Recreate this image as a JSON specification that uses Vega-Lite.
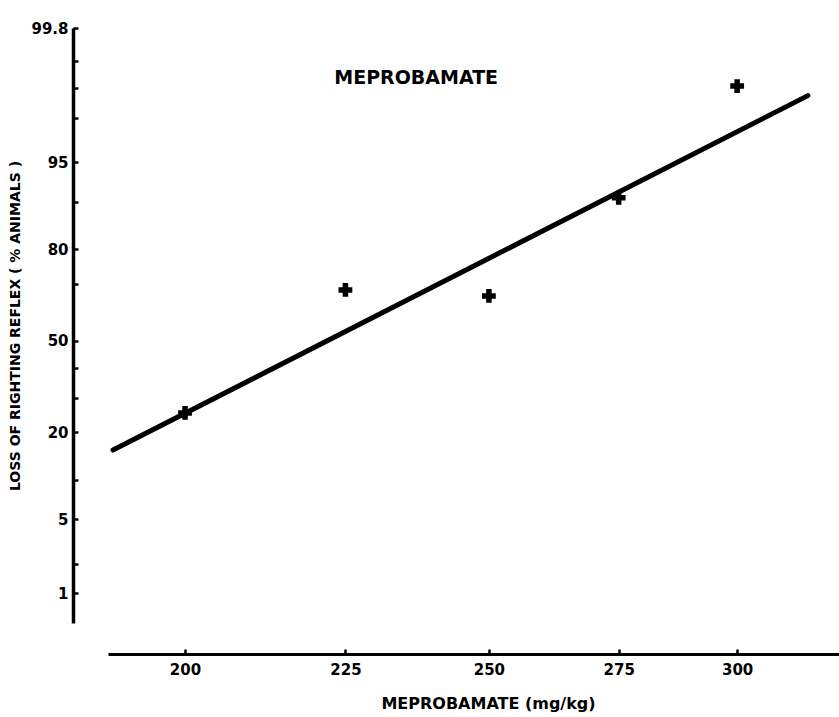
{
  "$schema": "https://vega.github.io/schema/vega-lite/v6.json",
  "width": 731,
  "height": 595,
  "autosize": {"type": "none"},
  "padding": {"left": 108, "top": 28, "right": 0, "bottom": 94},
  "background": "white",
  "config": {"view": {"stroke": null}, "font": "DejaVu Sans"},
  "data": {
    "values": [
      {"series": "fit", "dose": 189.7, "pct": 15.7, "label": ""},
      {"series": "fit", "dose": 316, "pct": 98.8, "label": ""},
      {"series": "observed", "dose": 200, "pct": 25.3, "label": ""},
      {"series": "observed", "dose": 225, "pct": 68, "label": ""},
      {"series": "observed", "dose": 250, "pct": 66, "label": ""},
      {"series": "observed", "dose": 275, "pct": 90.6, "label": ""},
      {"series": "observed", "dose": 300, "pct": 99.05, "label": ""},
      {"series": "title", "dose": 237, "pct": 99.22, "label": "MEPROBAMATE"}
    ]
  },
  "transform": [{"calculate": "quantileNormal(datum.pct/100)", "as": "probit"}],
  "encoding": {
    "x": {
      "field": "dose",
      "type": "quantitative",
      "scale": {"type": "log", "domain": [189, 323.3], "nice": false, "zero": false},
      "axis": {
        "values": [200, 225, 250, 275, 300],
        "format": "d",
        "offset": 31,
        "grid": false,
        "domainColor": "black",
        "domainWidth": 3,
        "tickColor": "black",
        "tickWidth": 2.5,
        "tickSize": -5,
        "labelPadding": 13,
        "labelFont": "DejaVu Sans",
        "labelFontWeight": "bold",
        "labelFontSize": 15,
        "labelColor": "black",
        "labelFlush": false,
        "title": "MEPROBAMATE (mg/kg)",
        "titleFont": "DejaVu Sans",
        "titleFontWeight": "bold",
        "titleFontSize": 16,
        "titleColor": "black",
        "titlePadding": 18,
        "titleX": 380
      }
    },
    "y": {
      "field": "probit",
      "type": "quantitative",
      "scale": {"type": "linear", "domain": [-2.6, 2.88], "nice": false, "zero": false},
      "axis": {
        "values": [2.8782, 2.5758, 2.3263, 2.0537, 1.6449, 1.2816, 0.8416, 0.5244, 0, -0.2533, -0.5244, -0.8416, -1.2816, -1.6449, -2.0537, -2.3263],
        "labelExpr": "indexof([99.8, 95, 80, 50, 20, 5, 1], round(cumulativeNormal(datum.value)*1000)/10) >= 0 ? '' + round(cumulativeNormal(datum.value)*1000)/10 : ''",
        "offset": 35,
        "grid": false,
        "domainColor": "black",
        "domainWidth": 3.5,
        "tickColor": "black",
        "tickWidth": 2.5,
        "tickSize": -5,
        "labelPadding": 10,
        "labelFont": "DejaVu Sans",
        "labelFontWeight": "bold",
        "labelFontSize": 15,
        "labelColor": "black",
        "labelFlush": false,
        "labelOverlap": false,
        "title": "LOSS OF RIGHTING REFLEX ( % ANIMALS )",
        "titleFont": "DejaVu Sans",
        "titleFontWeight": "bold",
        "titleFontSize": 14,
        "titleColor": "black",
        "titlePadding": 8
      }
    }
  },
  "layer": [
    {
      "transform": [{"filter": "datum.series === 'fit'"}],
      "mark": {"type": "line", "color": "black", "strokeWidth": 5, "strokeCap": "round"}
    },
    {
      "transform": [{"filter": "datum.series === 'observed'"}],
      "mark": {"type": "point", "shape": "cross", "size": 190, "filled": true, "color": "black", "opacity": 1}
    },
    {
      "transform": [{"filter": "datum.series === 'title'"}],
      "mark": {"type": "text", "font": "DejaVu Sans", "fontWeight": "bold", "fontSize": 19, "color": "black", "align": "center", "baseline": "middle"},
      "encoding": {"text": {"field": "label"}}
    }
  ]
}
